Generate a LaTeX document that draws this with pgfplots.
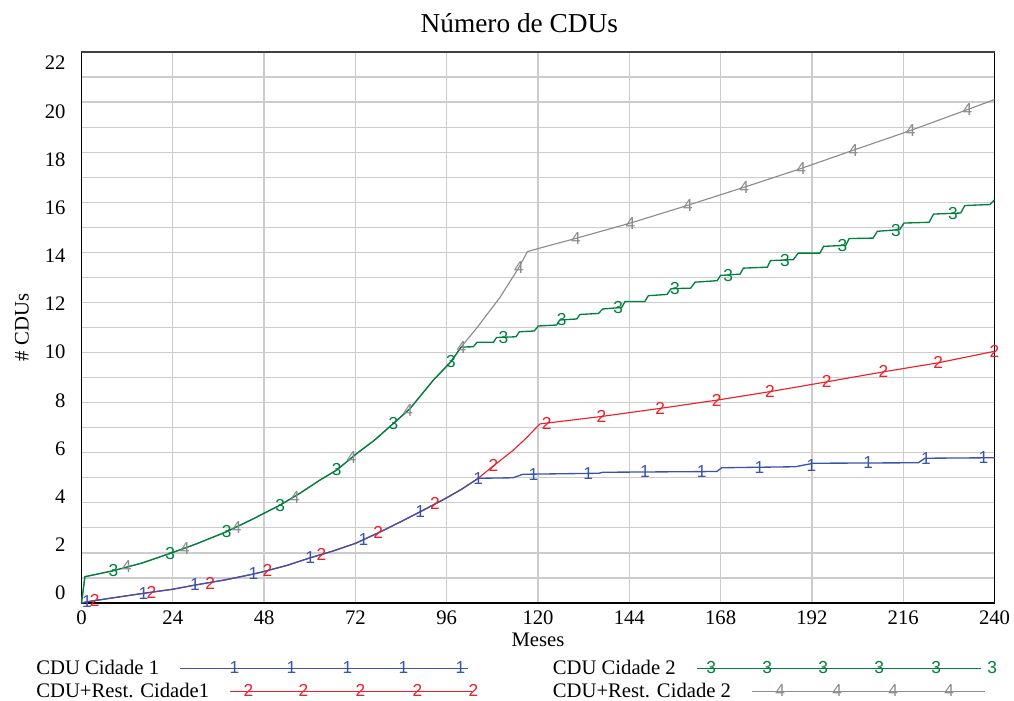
\documentclass[border=0pt]{standalone}
\usepackage{fontspec}
\setmainfont{Liberation Serif}
\newfontfamily\mk{Liberation Sans}
\usepackage{pgfplots}
\pgfplotsset{compat=1.18}
\definecolor{c1}{RGB}{58,84,172}
\definecolor{c2}{RGB}{240,30,38}
\definecolor{c3}{RGB}{0,128,60}
\definecolor{c4}{RGB}{140,140,140}
\newcommand{\tf}{\fontsize{15.5}{18}\selectfont}
\newcommand{\mf}{\mk\fontsize{13}{13}\selectfont}
\begin{document}
\begin{tikzpicture}
\useasboundingbox (-61.125pt,-72.75pt) rectangle (699.375pt,452.25pt);
\begin{axis}[
  at={(0,0)}, anchor=south west,
  scale only axis, width=684.75pt, height=413.25pt,
  xmin=0, xmax=240, ymin=0, ymax=22,
  clip=false,
  xtick={0,24,...,240},
  ytick={0.399,2.322,4.246,6.169,8.093,10.016,11.94,13.863,15.786,17.71,19.633,21.556},
  yticklabels={0,2,4,6,8,10,12,14,16,18,20,22},
  minor ytick={1,2,...,21},
  xmajorgrids=true, ymajorgrids=false, yminorgrids=true,
  grid style={gray!40, line width=0.95pt},
  minor grid style={gray!40, line width=0.95pt},
  major tick length=0pt, minor tick length=0pt,
  axis x line*=bottom, axis y line*=box,
  axis line style={-, line width=1.4pt, black},
  /pgf/number format/assume math mode=true,
  tick label style={font=\tf},
  yticklabel style={xshift=-8.5pt},
  xticklabel style={yshift=-2.5pt},
  title={Número de CDUs},
  title style={font=\fontsize{20.5}{24}\selectfont, at={(axis description cs:0.5,1)}, anchor=base, yshift=8.25pt, xshift=-14pt},
  xlabel={Meses},
  xlabel style={font=\tf, at={(axis description cs:0.5,-0.0791)}, anchor=base},
  ylabel={\# CDUs},
  ylabel style={font=\tf, at={(axis description cs:-0.058,0.5)}, anchor=base},
  legend plot pos=right,
  transpose legend,
  legend columns=2,
  legend cell align=left,
  legend style={at={(axis description cs:0,0)}, anchor=north west, xshift=-34.1pt, yshift=-43.0pt,
    draw=none, fill=none, inner sep=0pt, font=\tf,
    nodes={inner sep=0pt},
    row sep=4.5pt,
    /tikz/every odd column/.append style={column sep=15.75pt},
    /tikz/every even column/.append style={column sep=60pt}},
]
% legend images
\addlegendimage{legend image code/.code={
  \draw[overlay, draw=c1, line width=0.9pt] (-37.5pt,0) -- (178.5pt,0);
  \foreach \xx in {-0.75,42,84,126,168.75} {\node[overlay, font=\mf, text=c1, inner sep=0pt] at (\xx pt,0) {1};}
  \path[draw=none] (0,0) -- (182pt,0);
}}
\addlegendimage{legend image code/.code={
  \draw[overlay, draw=c2, line width=0.9pt] (0pt,0) -- (181.5pt,0);
  \foreach \xx in {9.75,51,93.75,136.5,178.5} {\node[overlay, font=\mf, text=c2, inner sep=0pt] at (\xx pt,0) {2};}
  \path[draw=none] (0,0) -- (182pt,0);
}}
\addlegendimage{legend image code/.code={
  \draw[overlay, draw=c3, line width=0.9pt] (-41.25pt,0) -- (171.75pt,0);
  \foreach \xx in {-34.5,7.5,49.5,91.5,134.25,176.25} {\node[overlay, font=\mf, text=c3, inner sep=0pt] at (\xx pt,0) {3};}
  \path[draw=none] (0,0) -- (175pt,0);
}}
\addlegendimage{legend image code/.code={
  \draw[overlay, draw=c4, line width=0.9pt] (0pt,0) -- (174.75pt,0);
  \foreach \xx in {17.25,60,102,144} {\node[overlay, font=\mf, text=c4, inner sep=0pt] at (\xx pt,0) {4};}
  \path[draw=none] (0,0) -- (175pt,0);
}}
% series 4: CDU+Rest. Cidade 2 (gray)
\addplot[c4, line width=0.85pt, forget plot] coordinates {
(0,0) (0.9,1.05) (8.4,1.29) (16,1.6) (23.3,1.98) (30,2.35) (38.2,2.85) (45,3.35) (52.2,3.91) (57.4,4.38) (62.7,4.91) (67.1,5.31) (72.2,5.95) (77,6.5) (82,7.17) (86.4,7.77) (92.5,8.9) (97.1,9.63) (99.8,10.22)
(104,11.0) (110,12.2) (115,13.4) (117.2,14.03) (120,14.15) (130,14.56) (144.3,15.17) (159.4,15.88) (168,16.3) (174.2,16.6) (189.2,17.35) (202.9,18.08) (218,18.87) (232.9,19.7) (240,20.1)
};
% series 3: CDU Cidade 2 (green)
\addplot[c3, line width=1pt, forget plot] coordinates {
(0,0) (0.9,1.05) (8.4,1.29) (16,1.6) (23.3,1.98) (30,2.35) (38.2,2.85) (45,3.35) (52.2,3.91) (57.4,4.38) (62.7,4.91) (67.1,5.31) (72.2,5.95) (77,6.5) (82,7.17) (86.4,7.77) (92.5,8.9) (97.1,9.63) (99.8,10.22)
(103,10.23) (104,10.41) (108.3,10.41) (109.1,10.6) (114.2,10.63) (115.1,10.83) (119,10.86) (120.1,11.06) (124.9,11.1) (125.7,11.3) (130.2,11.34) (131,11.52) (135.9,11.56) (137,11.74) (142,11.8) (142.9,12.04) (148.1,12.04) (149,12.27) (153.9,12.32) (155,12.55) (160.1,12.57) (161.3,12.81) (167.1,12.87) (168,13.08) (173.1,13.13) (174,13.37) (180.3,13.41) (181.1,13.67) (187.1,13.71) (188.4,13.97) (194.1,13.97) (195.1,14.24) (200.9,14.28) (201.8,14.55) (208.1,14.57) (209.2,14.84) (215.1,14.91) (216.2,15.17) (222.8,15.2) (224,15.53) (231.1,15.57) (232.2,15.87) (238.8,15.91) (240,16.1)
};
% series 2: CDU+Rest. Cidade1 (red)
\addplot[c2, line width=0.85pt, forget plot] coordinates {
(0,0) (1.5,0.05) (8,0.2) (16,0.38) (24,0.55) (30,0.72) (38,0.93) (45,1.15) (48,1.26) (54,1.5) (60,1.8) (66,2.07) (72,2.38) (78,2.8) (84,3.25) (90,3.72) (96,4.2) (100,4.55) (104.3,4.98)
(108.3,5.48) (113.5,6.1) (117,6.6) (120.5,7.15) (136.3,7.44) (152.1,7.77) (167,8.1) (181,8.44) (195.9,8.83) (210.8,9.23) (225.2,9.59) (240,10.05)
};
% series 1: CDU Cidade 1 (blue)
\addplot[c1, line width=1pt, forget plot] coordinates {
(0,0) (1.5,0.05) (8,0.2) (16,0.38) (24,0.55) (30,0.72) (38,0.93) (45,1.15) (48,1.26) (54,1.5) (60,1.8) (66,2.07) (72,2.38) (78,2.8) (84,3.25) (90,3.72) (96,4.2) (100,4.55) (104.3,4.98)
(113.5,5.0) (116,5.14) (136,5.18) (137,5.22) (167,5.25) (168.3,5.4) (187.6,5.44) (192.4,5.58) (220,5.6) (221.7,5.78) (240,5.8)
};
% text markers
\addplot[only marks, mark=text, text mark={4}, text mark as node=true, text mark style={font=\mf, text=c4, inner sep=0pt}, forget plot] coordinates {
(11.9,1.45) (27.2,2.18) (40.8,3.0) (56.1,4.2) (71,5.8) (85.9,7.7) (99.9,10.2) (115,13.4) (130,14.56) (144.3,15.17) (159.4,15.88) (174.2,16.6) (189.2,17.35) (202.9,18.08) (218,18.87) (232.9,19.7)
};
\addplot[only marks, mark=text, text mark={3}, text mark as node=true, text mark style={font=\mf, text=c3, inner sep=0pt}, forget plot] coordinates {
(8.4,1.29) (23.3,1.98) (38.2,2.85) (52.2,3.91) (67.1,5.31) (82,7.17) (97.1,9.63) (110.9,10.6) (126.2,11.3) (141.1,11.8) (156,12.56) (170,13.09) (184.9,13.69) (200,14.27) (214.1,14.89) (229.1,15.54)
};
\addplot[only marks, mark=text, text mark={2}, text mark as node=true, text mark style={font=\mf, text=c2, inner sep=0pt}, forget plot] coordinates {
(3.5,0.1) (18.4,0.43) (33.8,0.8) (48.9,1.29) (63.1,1.95) (78,2.82) (92.9,3.97) (108.3,5.48) (122.3,7.18) (136.7,7.45) (152.1,7.77) (167,8.1) (181,8.44) (195.9,8.83) (210.8,9.23) (225.2,9.59) (240,10.05)
};
\addplot[only marks, mark=text, text mark={1}, text mark as node=true, text mark style={font=\mf, text=c1, inner sep=0pt}, forget plot] coordinates {
(1.4,0.05) (16.3,0.39) (29.8,0.72) (45.2,1.16) (60.1,1.82) (74.1,2.52) (89,3.65) (104.3,4.98) (118.8,5.14) (133.2,5.17) (148.1,5.23) (163,5.25) (178.2,5.42) (191.9,5.5) (206.8,5.59) (222,5.78) (237.1,5.79)
};
\draw[line width=0.8pt, black!75] (rel axis cs:0,1) -- (rel axis cs:1,1);
\legend{CDU Cidade 1, CDU+Rest. Cidade1, CDU Cidade 2, CDU+Rest. Cidade 2}
\end{axis}
\end{tikzpicture}
\end{document}
